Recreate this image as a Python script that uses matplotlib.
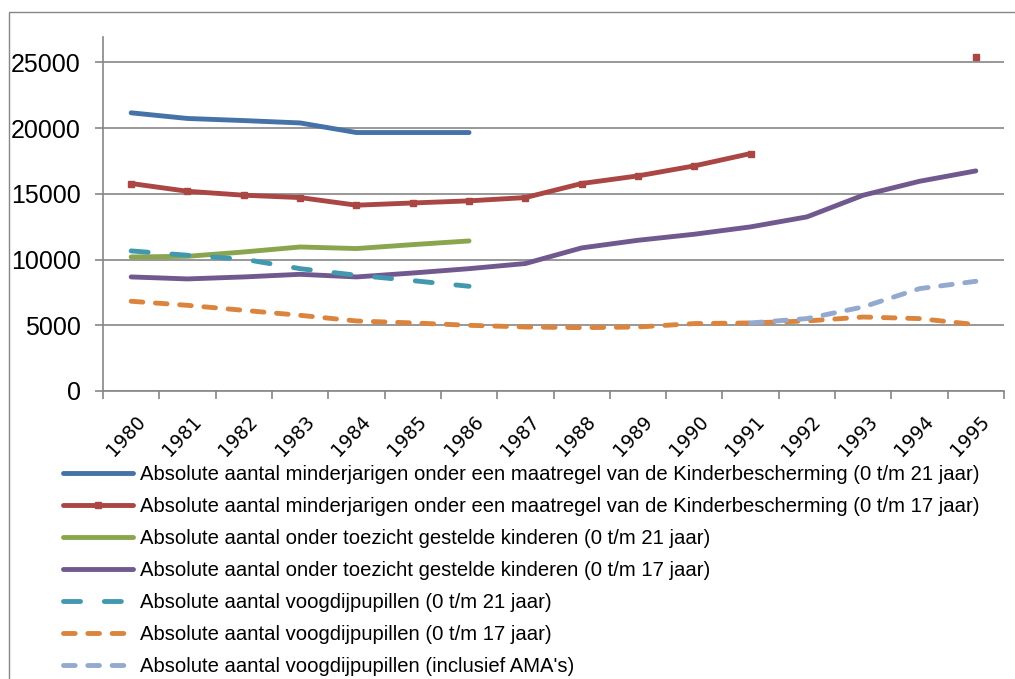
import matplotlib.pyplot as plt
from matplotlib.patches import Rectangle
from matplotlib.transforms import ScaledTranslation
import numpy as np

nan = np.nan

jaren = [str(j) for j in range(1980, 1996)]

kb_21 = [21170, 20740, 20580, 20400, 19670, 19670, 19670,
         nan, nan, nan, nan, nan, nan, nan, nan, nan]
kb_17 = [15790, 15200, 14900, 14720, 14140, 14310, 14470, 14720,
         15790, 16370, 17130, 18070, nan, nan, nan, 25380]
ots_21 = [10200, 10250, 10580, 10960, 10840, 11140, 11420,
          nan, nan, nan, nan, nan, nan, nan, nan, nan]
ots_17 = [8680, 8530, 8680, 8880, 8680, 8980, 9310, 9700,
          10890, 11470, 11930, 12490, 13250, 14900, 15960, 16750]
voogdij_21 = [10660, 10330, 10030, 9310, 8810, 8400, 7970,
              nan, nan, nan, nan, nan, nan, nan, nan, nan]
voogdij_17 = [6830, 6520, 6140, 5760, 5330, 5180, 5000, 4870,
              4820, 4870, 5130, 5180, 5330, 5630, 5510, 5050]
voogdij_ama = [nan, nan, nan, nan, nan, nan, nan, nan,
               nan, nan, nan, 5180, 5510, 6400, 7790, 8350]

labels = [
    "Absolute aantal minderjarigen onder een maatregel van de Kinderbescherming (0 t/m 21 jaar)",
    "Absolute aantal minderjarigen onder een maatregel van de Kinderbescherming (0 t/m 17 jaar)",
    "Absolute aantal onder toezicht gestelde kinderen (0 t/m 21 jaar)",
    "Absolute aantal onder toezicht gestelde kinderen (0 t/m 17 jaar)",
    "Absolute aantal voogdijpupillen (0 t/m 21 jaar)",
    "Absolute aantal voogdijpupillen (0 t/m 17 jaar)",
    "Absolute aantal voogdijpupillen (inclusief AMA's)",
]

if __name__ == "__main__":
    plt.rcParams['font.family'] = ['Liberation Sans', 'DejaVu Sans']
    grijs = "#868686"
    lw = 3.5

    fig = plt.figure(figsize=(10.15, 6.79), dpi=100)
    ax = fig.add_axes([103 / 1015, 1 - 391 / 679, 901 / 1015, 354 / 679])

    x = np.arange(len(jaren))

    # * series
    ax.plot(x, kb_21, color="#4572A7", lw=lw, solid_capstyle="round", label=labels[0])
    ax.plot(x, kb_17, color="#AA4643", lw=lw, marker="s", ms=5,
            solid_capstyle="round", label=labels[1])
    ax.plot(x, ots_21, color="#89A54E", lw=lw, solid_capstyle="round", label=labels[2])
    ax.plot(x, ots_17, color="#71588F", lw=lw, solid_capstyle="round", label=labels[3])
    ax.plot(x, voogdij_21, color="#4198AF", lw=lw, dashes=(3.5, 4.9),
            dash_capstyle="round", label=labels[4])
    ax.plot(x, voogdij_17, color="#DB843D", lw=lw, dashes=(2.4, 2.6),
            dash_capstyle="round", label=labels[5])
    ax.plot(x, voogdij_ama, color="#93A9CF", lw=lw, dashes=(2.4, 2.6),
            dash_capstyle="round", label=labels[6])

    # * assen
    ax.set_xlim(-0.5, len(jaren) - 0.5)
    ax.set_ylim(0, 26940)
    ax.set_yticks(range(0, 25001, 5000))
    ax.yaxis.grid(True, color=grijs, lw=1.2)
    ax.set_axisbelow(True)

    ax.set_xticks(x)
    ax.set_xticklabels(jaren, rotation=47, ha="right", rotation_mode="anchor",
                       family="DejaVu Sans", fontsize=13.5)
    ax.set_xticks(np.arange(-0.5, len(jaren)), minor=True)
    ax.tick_params(axis="x", which="major", length=0, pad=15)
    ax.tick_params(axis="x", which="minor", length=6, color=grijs, width=1.2)
    ax.tick_params(axis="y", length=6, color=grijs, width=1.2, pad=10, labelsize=18)
    for lab in ax.get_xticklabels():
        lab.set_transform(lab.get_transform() + ScaledTranslation(0.04, 0, fig.dpi_scale_trans))

    for s in ["top", "right"]:
        ax.spines[s].set_visible(False)
    for s in ["left", "bottom"]:
        ax.spines[s].set_color(grijs)
        ax.spines[s].set_linewidth(1.2)

    # * legenda
    fig.legend(loc="upper left", bbox_to_anchor=(63 / 1015, 1 - 465 / 679),
               frameon=False, fontsize=14.6, handlelength=3.45, handletextpad=0.35,
               labelspacing=0.645, borderpad=0, borderaxespad=0)

    # * rand van de grafiek
    fig.add_artist(Rectangle((8.5 / 1015, -0.2), 1.2, 1.2 - 12 / 679, fill=False,
                             edgecolor=grijs, lw=1, transform=fig.transFigure))

    fig.savefig("out.png", dpi=100)
